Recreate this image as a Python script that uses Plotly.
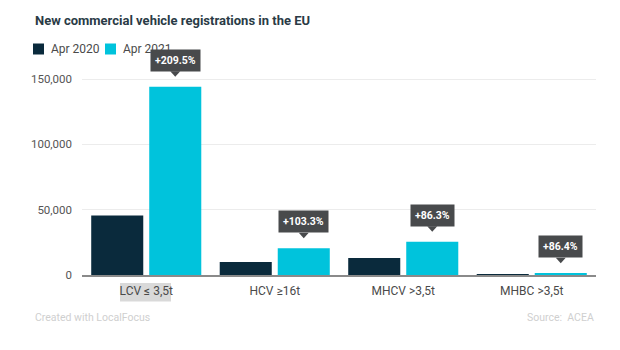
import plotly.graph_objects as go

categories = ["LCV ≤ 3,5t", "HCV ≥16t", "MHCV >3,5t", "MHBC >3,5t"]
series_names = ["Apr 2020", "Apr 2021"]
apr_2020 = [45600, 10000, 13000, 700]
apr_2021 = [144000, 20400, 25500, 1300]
changes = ["+209.5%", "+103.3%", "+86.3%", "+86.4%"]
y_ticks = [0, 50000, 100000, 150000]
y_tick_labels = ["0", "50,000", "100,000", "150,000"]

C20 = "#0a2a3c"
C21 = "#00c3dc"
FONT = "Roboto"

fig = go.Figure()
fig.add_trace(go.Bar(name=series_names[0], x=categories, y=apr_2020, marker_color=C20,
                     marker_line_width=0))
fig.add_trace(go.Bar(name=series_names[1], x=categories, y=apr_2021, marker_color=C21,
                     marker_line_width=0))

offset = 0.2257  # centre of second bar in a group, in category units
for i, (v, t) in enumerate(zip(apr_2021, changes)):
    fig.add_annotation(x=i + offset, y=v, xref="x", yref="y", text="<b>" + t + "</b>",
                       showarrow=False, yanchor="bottom", yshift=15,
                       bgcolor="#484a4c", borderpad=4,
                       font=dict(family=FONT, size=10.5, color="white"))
    fig.add_shape(type="path", xref="x", yref="y", xsizemode="pixel", ysizemode="pixel",
                  xanchor=i + offset, yanchor=v,
                  path="M -5 15.5 L 5 15.5 L 0 10 Z", fillcolor="#484a4c",
                  line_width=0)

PH = 205.0
def py(pix):  # pixel row -> paper y
    return 1 + (70 - pix) / PH
def px(pix):  # pixel column -> paper x
    return (pix - 82) / 514.0

# hover highlight behind first category label
fig.add_shape(type="rect", xref="paper", yref="paper", x0=px(120), x1=px(171),
              y0=py(301.5), y1=py(283), fillcolor="#d9d9d9", line_width=0, layer="below")

# manual legend
leg_x = [33, 105]
for name, col, lx in zip(series_names, [C20, C21], leg_x):
    fig.add_shape(type="rect", xref="paper", yref="paper",
                  x0=px(lx), x1=px(lx + 11), y0=py(54.5), y1=py(43.5),
                  fillcolor=col, line_width=0)
    fig.add_annotation(text=name, xref="paper", yref="paper", x=px(lx + 16), y=py(49),
                       xanchor="left", yanchor="middle", showarrow=False,
                       font=dict(family=FONT, size=12, color="#4a4a4a"))

fig.add_annotation(text="<b>New commercial vehicle registrations in the EU</b>",
                   xref="paper", yref="paper", x=px(33), y=py(20), xanchor="left",
                   yanchor="middle", showarrow=False,
                   font=dict(family=FONT, size=13, color="#2a3b46"))
fig.add_annotation(text="Created with LocalFocus", xref="paper", yref="paper",
                   x=px(33), y=py(317), xanchor="left", yanchor="middle", showarrow=False,
                   font=dict(family=FONT, size=10.5, color="#cfcfcf"))
fig.add_annotation(text="Source:  ACEA", xref="paper", yref="paper",
                   x=1.0, y=py(317), xanchor="right", yanchor="middle", showarrow=False,
                   font=dict(family=FONT, size=10.5, color="#cfcfcf"))

fig.update_layout(
    width=620, height=350,
    margin=dict(l=82, r=24, t=70, b=75),
    paper_bgcolor="white", plot_bgcolor="white",
    barmode="group", bargap=0.097, bargroupgap=0.103,
    font=dict(family=FONT, color="#555"),
    showlegend=False,
    xaxis=dict(showgrid=False, showline=True, linecolor="#8a8a8a", linewidth=2,
               tickfont=dict(family=FONT, size=12, color="#4a4a4a"), ticks="",
               ticklabelstandoff=4, fixedrange=True),
    yaxis=dict(range=[0, 156900], tickvals=y_ticks, ticktext=y_tick_labels,
               showgrid=True, gridcolor="#ececec", gridwidth=1, zeroline=False,
               tickfont=dict(family=FONT, size=11.5, color="#555"), ticks="",
               ticklabelstandoff=9),
)

fig.write_html("out.html")
